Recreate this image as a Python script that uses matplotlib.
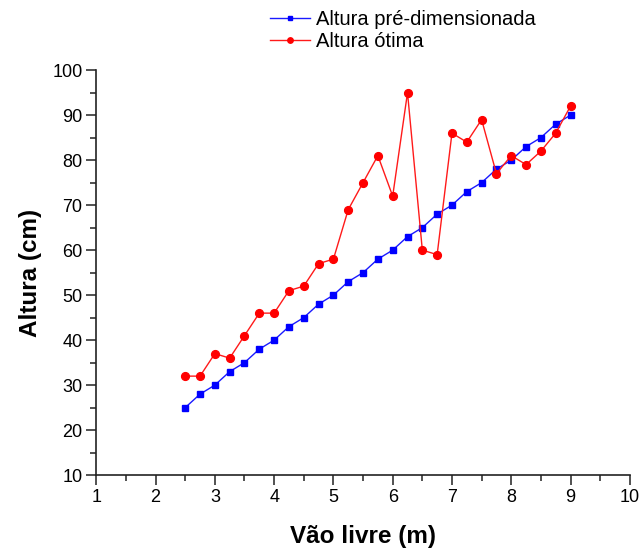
import numpy as np
import matplotlib
matplotlib.use("Agg")
import matplotlib.pyplot as plt
from matplotlib.ticker import MultipleLocator

plt.rcParams['font.family'] = ['Liberation Sans', 'DejaVu Sans']

# Data
vao = [2.5, 2.75, 3.0, 3.25, 3.5, 3.75, 4.0, 4.25, 4.5, 4.75, 5.0, 5.25, 5.5, 5.75,
       6.0, 6.25, 6.5, 6.75, 7.0, 7.25, 7.5, 7.75, 8.0, 8.25, 8.5, 8.75, 9.0]
altura_pre = [25, 28, 30, 33, 35, 38, 40, 43, 45, 48, 50, 53, 55, 58,
              60, 63, 65, 68, 70, 73, 75, 78, 80, 83, 85, 88, 90]
altura_otima = [32, 32, 37, 36, 41, 46, 46, 51, 52, 57, 58, 69, 75, 81,
                72, 95, 60, 59, 86, 84, 89, 77, 81, 79, 82, 86, 92]

fig = plt.figure(figsize=(6.42, 5.48), dpi=100)
ax = fig.add_axes([0.150, 0.133, 0.831, 0.739])

ax.plot(vao, altura_pre, color='#1a1aff', lw=1, marker='s', ms=4.6,
        mec='#0000ff', mfc='#0000ff', label='Altura pré-dimensionada')
ax.plot(vao, altura_otima, color='#ff1a1a', lw=1, marker='o', ms=5.6,
        mec='#ff0000', mfc='#ff0000', label='Altura ótima')

ax.set_xlim(1, 10)
ax.set_ylim(10, 100)
ax.xaxis.set_major_locator(MultipleLocator(1))
ax.xaxis.set_minor_locator(MultipleLocator(0.5))
ax.yaxis.set_major_locator(MultipleLocator(10))
ax.yaxis.set_minor_locator(MultipleLocator(5))
ax.tick_params(which='both', direction='out', labelsize=13, color='#222222')
ax.tick_params(which='major', length=7, width=1.1, pad=3)
ax.tick_params(which='minor', length=4, width=1.1)
for s in ['top', 'right']:
    ax.spines[s].set_visible(False)
for s in ['left', 'bottom']:
    ax.spines[s].set_linewidth(1.2)
    ax.spines[s].set_color('#222222')

ax.set_xlabel('Vão livre (m)', fontsize=17.5, fontweight='bold', labelpad=14)
ax.set_ylabel('Altura (cm)', fontsize=17.5, fontweight='bold', labelpad=7)

fig.legend(*ax.get_legend_handles_labels(), loc='upper left',
           bbox_to_anchor=(262 / 642, 1 - 2 / 548), frameon=False,
           fontsize=14.5, handlelength=2.0, markerscale=0.7,
           borderaxespad=0.0, labelspacing=0.15, handletextpad=0.3)

fig.savefig('out.png', dpi=100)
